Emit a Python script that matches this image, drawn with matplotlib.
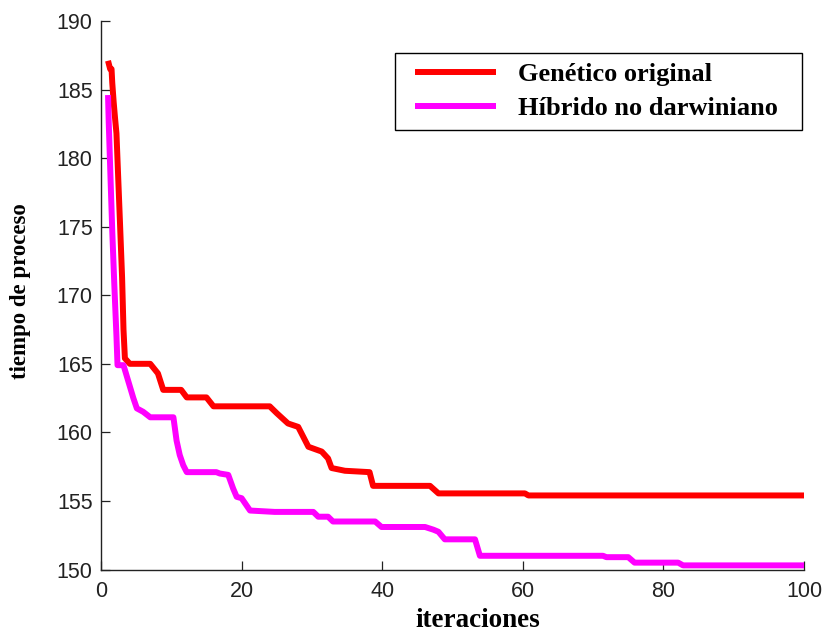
import matplotlib
matplotlib.use("Agg")
import matplotlib.pyplot as plt
from matplotlib.offsetbox import DrawingArea

# Genetico original (red)
gen_x = [1.0, 1.3, 1.5, 1.6, 1.8, 2.0, 2.2, 2.4, 2.7, 3.0, 3.2, 3.4, 4.1, 7.0, 8.1, 8.85,
         11.4, 12.2, 15.0, 16.0, 24.0, 25.0, 26.6, 28.05, 29.5, 31.4, 32.3, 32.8, 34.7,
         38.2, 38.7, 46.8, 48.0, 60.3, 60.8, 100.0]
gen_y = [187.1, 186.5, 186.5, 185.5, 184.1, 182.9, 181.8, 179.2, 175.3, 171.3, 167.5, 165.4,
         165.0, 165.0, 164.3, 163.1, 163.1, 162.55, 162.55, 161.9, 161.9, 161.4, 160.65, 160.4,
         158.95, 158.6, 158.1, 157.4, 157.2, 157.1, 156.1, 156.1, 155.55, 155.55, 155.4, 155.4]

# Hibrido no darwiniano (magenta)
hib_x = [1.0, 1.1, 1.35, 1.6, 1.9, 2.2, 2.35, 3.2, 3.9, 4.6, 5.1, 6.0, 7.0, 10.3, 10.75, 11.2,
         11.7, 12.2, 16.4, 16.9, 18.1, 18.8, 19.3, 20.0, 21.2, 24.7, 30.2, 30.9, 32.3, 33.0,
         39.0, 39.9, 46.1, 47.3, 48.0, 48.9, 53.2, 53.9, 71.4, 71.9, 75.0, 75.9, 82.1, 82.8, 100.0]
hib_y = [184.6, 182.6, 178.6, 174.7, 170.7, 167.0, 164.9, 164.9, 163.7, 162.5, 161.75, 161.5,
         161.1, 161.1, 159.4, 158.35, 157.6, 157.1, 157.1, 157.0, 156.9, 155.9, 155.3, 155.2,
         154.3, 154.2, 154.2, 153.85, 153.85, 153.5, 153.5, 153.1, 153.1, 152.9, 152.75, 152.2,
         152.2, 151.0, 151.0, 150.9, 150.9, 150.5, 150.5, 150.3, 150.3]

series_labels = ["Genético original", "Híbrido no darwiniano"]
x_ticks = [0, 20, 40, 60, 80, 100]
y_ticks = [150, 155, 160, 165, 170, 175, 180, 185, 190]

fig = plt.figure(figsize=(8.27, 6.34), dpi=100)
ax = fig.add_axes([101 / 827, 1 - 569.5 / 634, 703 / 827, 548.5 / 634])

ax.plot(gen_x, gen_y, color="#ff0000", lw=4.3, label=series_labels[0], solid_capstyle="butt")
ax.plot(hib_x, hib_y, color="#ff00ff", lw=4.3, label=series_labels[1], solid_capstyle="butt")

ax.set_xlim(0, 100)
ax.set_ylim(150, 190)
ax.set_xticks(x_ticks)
ax.set_yticks(y_ticks)
ax.spines["top"].set_visible(False)
ax.spines["right"].set_visible(False)
for s in ("left", "bottom"):
    ax.spines[s].set_linewidth(1.0)
    ax.spines[s].set_color("#222222")
ax.tick_params(direction="in", length=6.5, width=0.9, color="#222222",
               labelsize=15.5, labelcolor="#222222")
ax.tick_params(axis="x", pad=8)
ax.tick_params(axis="y", pad=6)
for lab in ax.get_xticklabels() + ax.get_yticklabels():
    lab.set_fontfamily("Liberation Sans")

ax.set_xlabel("iteraciones", fontfamily="Liberation Serif", fontweight="bold", fontsize=19.5)
ax.set_ylabel("tiempo de proceso", fontfamily="Liberation Serif", fontweight="bold", fontsize=16.5)
ax.xaxis.set_label_coords(0.536, -0.071)
ax.yaxis.set_label_coords(-0.0996, 0.508)

fs = 19
leg = ax.legend(loc="upper right", bbox_to_anchor=(0.997, 0.9417), fancybox=False,
                framealpha=1, edgecolor="black",
                prop={"family": "Liberation Serif", "weight": "bold", "size": fs},
                handlelength=3.05, handletextpad=0.85, borderpad=0.36, labelspacing=0.41,
                borderaxespad=0, columnspacing=0)
leg.get_frame().set_linewidth(1.0)
try:
    hb = leg._legend_handle_box
    hb._children = [DrawingArea(10.5 * 0.72, 0)] + list(hb._children) + [DrawingArea(14.5 * 0.72, 0)]
except Exception:
    pass

fig.savefig("out.png", dpi=100)
